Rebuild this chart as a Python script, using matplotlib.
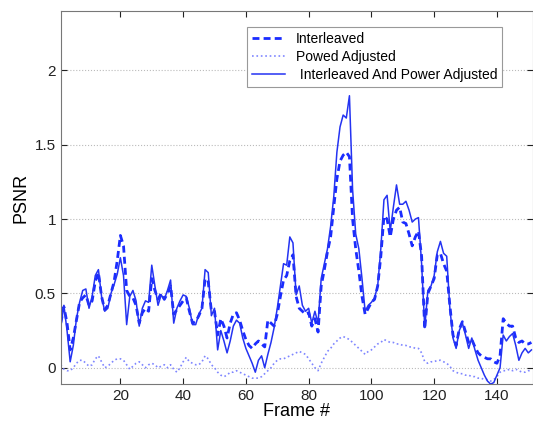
import numpy as np
import matplotlib
matplotlib.use('Agg')
import matplotlib.pyplot as plt

plt.rcParams['font.family'] = ['Liberation Sans', 'DejaVu Sans']

# frame numbers 1..151
frames = np.arange(1, 152)

interleaved = [
    0.30, 0.41, 0.30, 0.12, 0.20, 0.32, 0.44, 0.47, 0.49, 0.42,
    0.45, 0.58, 0.64, 0.48, 0.39, 0.42, 0.50, 0.58, 0.72, 0.89,
    0.82, 0.52, 0.48, 0.47, 0.42, 0.30, 0.37, 0.40, 0.38, 0.60,
    0.52, 0.46, 0.50, 0.46, 0.50, 0.55, 0.36, 0.39, 0.42, 0.45,
    0.47, 0.38, 0.30, 0.31, 0.35, 0.40, 0.60, 0.58, 0.38, 0.38,
    0.22, 0.33, 0.28, 0.20, 0.30, 0.36, 0.37, 0.32, 0.25, 0.19,
    0.15, 0.13, 0.16, 0.18, 0.16, 0.14, 0.32, 0.30, 0.28, 0.36,
    0.48, 0.59, 0.62, 0.72, 0.76, 0.48, 0.40, 0.38, 0.36, 0.37,
    0.28, 0.33, 0.24, 0.55, 0.66, 0.78, 0.88, 1.08, 1.27, 1.39,
    1.43, 1.45, 1.42, 1.00, 0.80, 0.65, 0.48, 0.36, 0.40, 0.44,
    0.46, 0.55, 0.75, 1.02, 1.00, 0.88, 1.00, 1.06, 1.08, 0.98,
    0.97, 0.90, 0.82, 0.88, 0.92, 0.75, 0.26, 0.50, 0.55, 0.60,
    0.76, 0.77, 0.70, 0.65, 0.42, 0.22, 0.15, 0.26, 0.31, 0.24,
    0.17, 0.19, 0.14, 0.10, 0.08, 0.07, 0.06, 0.06, 0.04, 0.03,
    0.08, 0.33, 0.30, 0.28, 0.28, 0.20, 0.17, 0.18, 0.16, 0.16,
    0.17,
]

power_adjusted = [
    0.02, -0.01, -0.02, -0.02, 0.00, 0.03, 0.05, 0.05, 0.03, 0.01,
    0.02, 0.06, 0.08, 0.04, 0.00, 0.01, 0.03, 0.05, 0.06, 0.06,
    0.05, 0.02, -0.01, 0.01, 0.03, 0.04, 0.02, 0.00, 0.02, 0.03,
    0.02, 0.00, 0.01, 0.02, 0.00, 0.02, -0.01, -0.03, 0.00, 0.04,
    0.07, 0.04, 0.03, 0.02, 0.02, 0.04, 0.08, 0.06, 0.02, 0.00,
    -0.03, -0.05, -0.06, -0.05, -0.03, -0.03, -0.02, -0.03, -0.04, -0.05,
    -0.06, -0.07, -0.07, -0.07, -0.06, -0.04, -0.02, 0.00, 0.03, 0.05,
    0.06, 0.06, 0.07, 0.08, 0.09, 0.10, 0.11, 0.10, 0.09, 0.06,
    0.03, 0.00, -0.02, 0.03, 0.07, 0.11, 0.13, 0.16, 0.18, 0.20,
    0.21, 0.20, 0.19, 0.17, 0.15, 0.13, 0.11, 0.09, 0.11, 0.12,
    0.14, 0.16, 0.17, 0.19, 0.18, 0.17, 0.17, 0.16, 0.16, 0.15,
    0.15, 0.14, 0.14, 0.13, 0.13, 0.10, 0.04, 0.03, 0.04, 0.04,
    0.05, 0.05, 0.04, 0.03, 0.01, -0.02, -0.03, -0.04, -0.04, -0.05,
    -0.05, -0.06, -0.06, -0.07, -0.07, -0.08, -0.08, -0.09, -0.08, -0.06,
    -0.03, -0.02, -0.02, -0.01, -0.02, -0.01, -0.02, -0.03, -0.03, -0.02,
    -0.02,
]

both = [
    0.28, 0.42, 0.25, 0.04, 0.15, 0.33, 0.44, 0.52, 0.53, 0.40,
    0.48, 0.62, 0.66, 0.48, 0.38, 0.40, 0.50, 0.56, 0.63, 0.74,
    0.62, 0.29, 0.48, 0.52, 0.45, 0.28, 0.40, 0.45, 0.44, 0.69,
    0.55, 0.42, 0.49, 0.46, 0.52, 0.59, 0.30, 0.40, 0.45, 0.49,
    0.48, 0.40, 0.29, 0.29, 0.36, 0.40, 0.66, 0.64, 0.35, 0.40,
    0.12, 0.25, 0.18, 0.10, 0.18, 0.28, 0.32, 0.30, 0.20, 0.13,
    0.08, 0.03, -0.03, 0.05, 0.08, 0.00, 0.09, 0.17, 0.27, 0.40,
    0.55, 0.70, 0.69, 0.88, 0.84, 0.49, 0.55, 0.42, 0.38, 0.40,
    0.30, 0.38, 0.30, 0.60, 0.70, 0.80, 0.95, 1.15, 1.45, 1.62,
    1.70, 1.68, 1.83, 1.20, 0.90, 0.80, 0.60, 0.38, 0.42, 0.44,
    0.47, 0.55, 0.80, 1.13, 1.16, 0.92, 1.08, 1.23, 1.10, 1.10,
    1.12, 1.06, 0.98, 1.00, 1.01, 0.70, 0.27, 0.52, 0.55, 0.62,
    0.78, 0.85, 0.77, 0.75, 0.40, 0.20, 0.13, 0.25, 0.30, 0.22,
    0.13, 0.20, 0.12, 0.05, 0.00, -0.05, -0.09, -0.11, -0.10, -0.05,
    0.00, 0.22, 0.18, 0.21, 0.23, 0.15, 0.05, 0.10, 0.13, 0.10,
    0.12,
]

yticks = [0, 0.5, 1, 1.5, 2]
xticks = [20, 40, 60, 80, 100, 120, 140]

fig = plt.figure(figsize=(5.33, 4.23), dpi=100)
ax = fig.add_axes([0.114, 0.092, 0.886, 0.882])

ax.plot(frames, interleaved, color='#1a2cff', linestyle='--', dashes=(2.5, 1.5),
        linewidth=2.0, label='Interleaved')
ax.plot(frames, power_adjusted, color='#7f86ff', linestyle=':', linewidth=1.2,
        label='Powed Adjusted')
ax.plot(frames, both, color='#2433f2', linestyle='-', linewidth=1.1,
        label=' Interleaved And Power Adjusted')

ax.set_xlim(1, 151.5)
ax.set_ylim(-0.11, 2.4)
ax.set_xticks(xticks)
ax.set_yticks(yticks)
ax.set_yticklabels(['0', '0.5', '1', '1.5', '2'])
ax.yaxis.grid(True, linestyle=':', color='#bbbbbb', linewidth=0.8)
ax.tick_params(direction='in', top=True, right=True, length=4,
               labelsize=11, colors='#222222')
for s in ax.spines.values():
    s.set_color('#777777')

ax.set_xlabel('Frame #', fontsize=13, labelpad=0)
ax.set_ylabel('PSNR', fontsize=13)

leg = ax.legend(loc='upper left', bbox_to_anchor=(0.394, 0.958), borderaxespad=0,
                fontsize=10, fancybox=False, framealpha=1, edgecolor='#999999',
                handlelength=2.4, borderpad=0.35, labelspacing=0.3,
                handletextpad=0.8)
leg.get_frame().set_linewidth(0.8)

plt.savefig('out.png', dpi=100)
